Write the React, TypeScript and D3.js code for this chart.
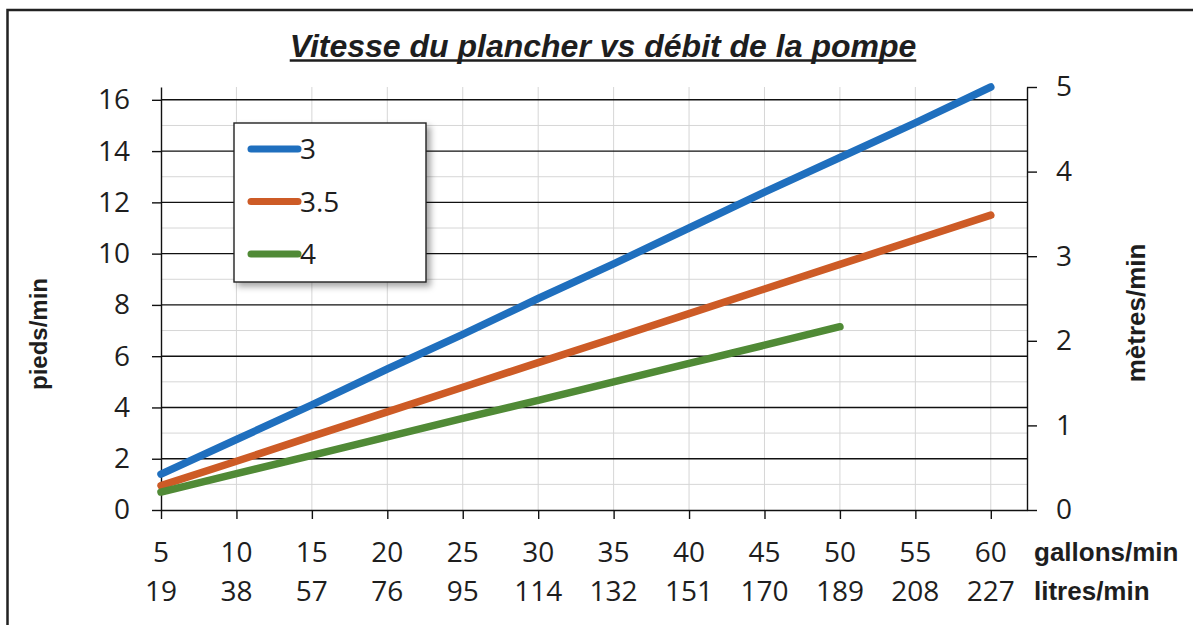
import React, { useEffect, useRef } from "react";
import * as d3 from "d3";

// gallons per minute (x positions) and matching litres per minute labels
const gallons = [5, 10, 15, 20, 25, 30, 35, 40, 45, 50, 55, 60];
const litres = [19, 38, 57, 76, 95, 114, 132, 151, 170, 189, 208, 227];

// floor speed in feet/min
const serie3 = [1.4, 2.75, 4.1, 5.5, 6.85, 8.25, 9.6, 11.0, 12.4, 13.75, 15.1, 16.5];
const serie35 = [0.95, 1.9, 2.87, 3.83, 4.79, 5.75, 6.7, 7.66, 8.62, 9.58, 10.54, 11.5];
const serie4 = [0.7, 1.42, 2.13, 2.85, 3.57, 4.28, 5.0, 5.72, 6.43, 7.15];

const seriesNames = ["3", "3.5", "4"];
const seriesColors = ["#1f6fbe", "#cd5b26", "#508a36"];

const feetTicks = [0, 2, 4, 6, 8, 10, 12, 14, 16];
const feetMinor = [1, 3, 5, 7, 9, 11, 13, 15];
const metreTicks = [0, 1, 2, 3, 4, 5];

const title = "Vitesse du plancher vs débit de la pompe";

interface Pt {
  g: number;
  v: number;
}

const App: React.FC = () => {
  const svgRef = useRef<SVGSVGElement | null>(null);
  const width = 1193;
  const height = 625;

  useEffect(() => {
    const svg = d3.select(svgRef.current);
    svg.selectAll("*").remove();

    const left = 161;
    const right = 1027;
    const top = 87;
    const bottom = 510;

    const x = d3.scaleLinear().domain([5, 62.4]).range([left, right]);
    const yL = d3.scaleLinear().domain([0, 16.5]).range([bottom, top]);
    const yR = d3.scaleLinear().domain([0, 5]).range([bottom, top]);

    const numFont = "'Open Sans', 'Noto Sans', sans-serif";
    const numSize = "28px";
    const boldFont = "'Liberation Sans', Arial, sans-serif";
    const ink = "#1e1e1e";

    // shadow for the legend box
    const defs = svg.append("defs");
    const f = defs
      .append("filter")
      .attr("id", "shadow")
      .attr("x", "-10%")
      .attr("y", "-10%")
      .attr("width", "130%")
      .attr("height", "130%");
    f.append("feDropShadow")
      .attr("dx", 4)
      .attr("dy", 4)
      .attr("stdDeviation", 3)
      .attr("flood-color", "#000")
      .attr("flood-opacity", 0.35);

    svg
      .append("rect")
      .attr("width", width)
      .attr("height", height)
      .attr("fill", "#fff");

    // outer frame
    svg
      .append("rect")
      .attr("x", 7.5)
      .attr("y", 10)
      .attr("width", 1300)
      .attr("height", 800)
      .attr("fill", "none")
      .attr("stroke", "#222")
      .attr("stroke-width", 2.5);

    // title with underline
    const t = svg
      .append("text")
      .attr("x", 603)
      .attr("y", 57)
      .attr("text-anchor", "middle")
      .style("font-family", boldFont)
      .style("font-weight", "bold")
      .style("font-style", "italic")
      .style("font-size", "32px")
      .attr("fill", ink)
      .text(title);
    const tw = (t.node() as SVGTextElement).getComputedTextLength();
    svg
      .append("line")
      .attr("x1", 603 - tw / 2)
      .attr("x2", 603 + tw / 2)
      .attr("y1", 60.5)
      .attr("y2", 60.5)
      .attr("stroke", ink)
      .attr("stroke-width", 2.5);

    const chart = svg.append("g");

    // minor horizontal grid
    chart
      .selectAll(".minor")
      .data(feetMinor)
      .enter()
      .append("line")
      .attr("x1", left)
      .attr("x2", right)
      .attr("y1", (d) => yL(d))
      .attr("y2", (d) => yL(d))
      .attr("stroke", "#d6d6d6")
      .attr("stroke-width", 1);

    // vertical grid
    chart
      .selectAll(".vgrid")
      .data(gallons.slice(1))
      .enter()
      .append("line")
      .attr("x1", (d) => x(d))
      .attr("x2", (d) => x(d))
      .attr("y1", top)
      .attr("y2", bottom)
      .attr("stroke", "#d6d6d6")
      .attr("stroke-width", 1);

    // major horizontal grid
    chart
      .selectAll(".major")
      .data(feetTicks.slice(1))
      .enter()
      .append("line")
      .attr("x1", left)
      .attr("x2", right)
      .attr("y1", (d) => yL(d))
      .attr("y2", (d) => yL(d))
      .attr("stroke", "#111")
      .attr("stroke-width", 1.4);

    // left axis
    const ax = chart
      .append("g")
      .attr("transform", `translate(${left},0)`)
      .call(
        d3
          .axisLeft(yL)
          .tickValues(feetTicks)
          .tickSize(9)
          .tickSizeOuter(0)
          .tickPadding(22)
      );
    ax.selectAll("text")
      .style("font-family", numFont)
      .style("font-size", numSize)
      .attr("fill", ink);

    // right axis
    const ar = chart
      .append("g")
      .attr("transform", `translate(${right},0)`)
      .call(
        d3
          .axisRight(yR)
          .tickValues(metreTicks)
          .tickFormat(d3.format("d"))
          .tickSize(10)
          .tickSizeOuter(0)
          .tickPadding(19)
      );
    ar.selectAll("text")
      .style("font-family", numFont)
      .style("font-size", numSize)
      .attr("fill", ink);

    // bottom axis (ticks only, labels drawn below in two rows)
    chart
      .append("g")
      .attr("transform", `translate(0,${bottom})`)
      .call(
        d3
          .axisBottom(x)
          .tickValues(gallons)
          .tickSize(9)
          .tickSizeOuter(0)
          .tickFormat(() => "")
      );

    chart
      .selectAll("path.domain, .tick line")
      .attr("stroke", "#111")
      .attr("stroke-width", 1.4);

    chart
      .selectAll(".gal")
      .data(gallons)
      .enter()
      .append("text")
      .attr("x", (d) => x(d))
      .attr("y", 562)
      .attr("text-anchor", "middle")
      .style("font-family", numFont)
      .style("font-size", numSize)
      .attr("fill", ink)
      .text((d) => d);

    chart
      .selectAll(".lit")
      .data(litres)
      .enter()
      .append("text")
      .attr("x", (_, i) => x(gallons[i]))
      .attr("y", 601)
      .attr("text-anchor", "middle")
      .style("font-family", numFont)
      .style("font-size", numSize)
      .attr("fill", ink)
      .text((d) => d);

    // axis titles
    const unit = (txt: string, px: number, py: number, rot: boolean, size: number, anchor: string) => {
      svg
        .append("text")
        .attr("transform", rot ? `translate(${px},${py}) rotate(-90)` : `translate(${px},${py})`)
        .attr("text-anchor", anchor)
        .style("font-family", boldFont)
        .style("font-weight", "bold")
        .style("font-size", `${size}px`)
        .attr("fill", ink)
        .text(txt);
    };
    unit("pieds/min", 47, 334, true, 24, "middle");
    unit("mètres/min", 1145, 313, true, 26, "middle");
    unit("gallons/min", 1034, 561, false, 26, "start");
    unit("litres/min", 1034, 600, false, 26, "start");

    // data lines
    const data: Pt[][] = [serie3, serie35, serie4].map((s) =>
      s.map((v, i) => ({ g: gallons[i], v }))
    );
    const line = d3
      .line<Pt>()
      .x((d) => x(d.g))
      .y((d) => yL(d.v));

    chart
      .selectAll(".serie")
      .data(data)
      .enter()
      .append("path")
      .attr("d", (d) => line(d)!)
      .attr("fill", "none")
      .attr("stroke", (_, i) => seriesColors[i])
      .attr("stroke-width", 7.5)
      .attr("stroke-linecap", "round")
      .attr("stroke-linejoin", "round");

    // legend
    const lg = svg.append("g").attr("transform", "translate(234,123)");
    lg.append("rect")
      .attr("width", 192)
      .attr("height", 159)
      .attr("fill", "#fff")
      .attr("stroke", "#222")
      .attr("stroke-width", 1.4)
      .attr("filter", "url(#shadow)");
    seriesNames.forEach((name, i) => {
      const yy = 26 + i * 52.5;
      lg.append("line")
        .attr("x1", 17)
        .attr("x2", 64)
        .attr("y1", yy)
        .attr("y2", yy)
        .attr("stroke", seriesColors[i])
        .attr("stroke-width", 7)
        .attr("stroke-linecap", "round");
      lg.append("text")
        .attr("x", 66)
        .attr("y", yy)
        .attr("dy", "0.36em")
        .style("font-family", numFont)
        .style("font-size", numSize)
        .attr("fill", ink)
        .text(name);
    });
  }, []);

  return (
    <svg
      ref={svgRef}
      width={width}
      height={height}
      style={{ position: "absolute", left: 0, top: 0 }}
    />
  );
};

export default App;
